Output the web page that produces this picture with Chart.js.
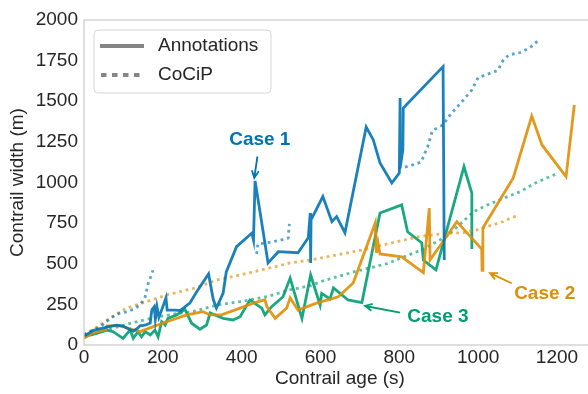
<!DOCTYPE html>
<html>
<head>
<meta charset="utf-8">
<script src="https://cdn.jsdelivr.net/npm/chart.js@4/dist/chart.umd.min.js"></script>
<style>
  html, body { margin: 0; padding: 0; background: #fff; overflow: hidden; }
  #wrap { width: 600px; height: 394px; }
</style>
</head>
<body>
<div id="wrap"><canvas id="c" width="600" height="394"></canvas></div>
<script>
// Axis ticks
const ageTicks = [0, 200, 400, 600, 800, 1000, 1200];
const widthTicks = [0, 250, 500, 750, 1000, 1250, 1500, 1750, 2000];

// Case 1: annotated contrail width [age (s), width (m)]
const case1Annotations = [
  [0,55],[24,90],[66,115],[83,122],[99,117],[125,85],[137,105],[142,118],[155,122],[168,135],
  [172,215],[178,235],[181,160],[185,235],[190,170],[200,235],[208,290],[211,215],[231,215],[244,212],
  [269,260],[286,328],[316,437],[328,280],[336,228],[353,320],[361,450],[387,605],[426,689],[430,646],
  [434,1010],[447,812],[467,505],[493,574],[543,568],[569,660],[574,812],[575,505],[576,770],[606,913],
  [629,759],[641,790],[662,691],[716,1341],[734,1262],[751,1120],[781,997],[800,1058],[802,1520],[802,1090],
  [809,1200],[810,1458],[911,1713],[914,523]
];
// Case 1: CoCiP width, three model segments
const case1CocipA = [[0,65],[40,110],[70,170],[90,195],[110,205],[125,220],[142,245],[155,295],[163,380],[170,425],[175,460]];
const case1CocipB = [[438,560],[441,620],[465,630],[493,642],[518,658],[521,745]];
const case1CocipC = [
  [798,1085],[830,1105],[855,1125],[872,1220],[884,1320],[911,1355],[930,1420],[958,1495],[984,1570],
  [1000,1645],[1050,1690],[1064,1755],[1078,1785],[1107,1800],[1132,1830],[1155,1880]
];

// Case 2
const case2Annotations = [
  [0,42],[24,76],[41,85],[55,95],[58,118],[91,118],[112,103],[142,82],[176,113],[210,143],
  [261,185],[302,205],[320,185],[349,185],[396,227],[429,258],[459,278],[464,236],[485,164],[514,227],
  [523,290],[543,215],[590,258],[645,297],[683,382],[739,751],[742,566],[746,628],[751,560],[806,543],
  [861,445],[876,843],[878,523],[946,759],[1009,590],[1010,460],[1012,720],[1089,1028],[1136,1409],
  [1162,1231],[1223,1036],[1244,1477]
];
const case2Cocip = [
  [0,60],[41,123],[66,166],[108,227],[159,267],[210,308],[244,328],[282,351],[337,400],[396,431],
  [472,474],[523,505],[574,523],[641,554],[708,585],[794,636],[853,668],[911,685],[963,692],[1001,710],
  [1031,735],[1064,760],[1086,785],[1102,795]
];

// Case 3
const case3Annotations = [
  [0,51],[32,72],[58,92],[74,82],[99,41],[117,92],[125,41],[137,82],[146,51],[155,82],
  [168,62],[180,92],[188,51],[197,144],[206,123],[213,164],[235,185],[256,220],[273,134],[294,97],
  [311,123],[320,197],[353,164],[378,154],[396,174],[421,277],[451,227],[459,185],[476,236],[505,297],
  [523,412],[553,164],[575,431],[599,246],[603,318],[624,283],[633,351],[670,277],[705,261],[751,812],
  [806,862],[821,697],[857,628],[861,523],[893,462],[964,1097],[984,934],[984,591]
];
const case3Cocip = [
  [0,50],[60,95],[120,135],[180,170],[240,195],[277,205],[337,246],[396,267],[464,297],[523,340],
  [574,365],[607,395],[692,455],[768,500],[861,590],[920,670],[962,760],[988,820],[1022,860],[1064,903],
  [1107,944],[1145,997],[1195,1050]
];

const BLUE = 'rgba(1,115,178,0.9)', BLUE_D = 'rgba(1,115,178,0.65)';
const ORANGE = 'rgba(222,143,5,0.9)', ORANGE_D = 'rgba(222,143,5,0.65)';
const GREEN = 'rgba(2,158,115,0.9)', GREEN_D = 'rgba(2,158,115,0.65)';
const FONT = '"Liberation Sans", Arial, sans-serif';
const INK = '#262626';

const toXY = arr => arr.map(([x, y]) => ({x, y}));
const solid = (data, color) => ({data: toXY(data), borderColor: color, borderWidth: 2.8, pointRadius: 0, tension: 0, fill: false});
const dotted = (data, color) => ({data: toXY(data), borderColor: color, borderWidth: 2.8, borderDash: [2.8, 3.8], borderCapStyle: 'butt', pointRadius: 0, tension: 0, fill: false});

// Frame, legend and case labels
const decorations = {
  id: 'decorations',
  afterDatasetsDraw(chart) {
    const {ctx, chartArea: a, scales: {x, y}} = chart;
    ctx.save();
    // axes frame
    ctx.strokeStyle = '#cccccc';
    ctx.lineWidth = 1.25;
    ctx.strokeRect(a.left, a.top, a.right - a.left, a.bottom - a.top);

    // legend
    const lx = 94, ly = 30, lw = 177, lh = 63, r = 4;
    ctx.beginPath();
    ctx.moveTo(lx + r, ly);
    ctx.arcTo(lx + lw, ly, lx + lw, ly + lh, r);
    ctx.arcTo(lx + lw, ly + lh, lx, ly + lh, r);
    ctx.arcTo(lx, ly + lh, lx, ly, r);
    ctx.arcTo(lx, ly, lx + lw, ly, r);
    ctx.closePath();
    ctx.fillStyle = 'rgba(255,255,255,0.85)';
    ctx.fill();
    ctx.strokeStyle = '#d6d6d6';
    ctx.lineWidth = 1;
    ctx.stroke();

    ctx.strokeStyle = '#858585';
    ctx.lineWidth = 4;
    ctx.lineCap = 'butt';
    ctx.beginPath(); ctx.moveTo(100, 46); ctx.lineTo(144, 46); ctx.stroke();
    ctx.setLineDash([5.5, 5.5]);
    ctx.beginPath(); ctx.moveTo(101, 75); ctx.lineTo(144, 75); ctx.stroke();
    ctx.setLineDash([]);

    ctx.fillStyle = INK;
    ctx.font = '19px ' + FONT;
    ctx.textBaseline = 'middle';
    ctx.textAlign = 'left';
    ctx.fillText('Annotations', 158, 46);
    ctx.fillText('CoCiP', 158, 75);

    // case labels with arrows
    const arrow = (x0, y0, x1, y1, color) => {
      const px0 = x.getPixelForValue(x0), py0 = y.getPixelForValue(y0);
      const px1 = x.getPixelForValue(x1), py1 = y.getPixelForValue(y1);
      const ang = Math.atan2(py1 - py0, px1 - px0);
      const hl = 8, ha = 0.45;
      ctx.strokeStyle = color;
      ctx.lineWidth = 1.8;
      ctx.beginPath();
      ctx.moveTo(px0, py0); ctx.lineTo(px1, py1);
      ctx.moveTo(px1 - hl * Math.cos(ang - ha), py1 - hl * Math.sin(ang - ha));
      ctx.lineTo(px1, py1);
      ctx.lineTo(px1 - hl * Math.cos(ang + ha), py1 - hl * Math.sin(ang + ha));
      ctx.stroke();
    };
    const label = (text, xv, yv, color) => {
      ctx.fillStyle = color;
      ctx.font = 'bold 19px ' + FONT;
      ctx.textAlign = 'center';
      ctx.textBaseline = 'middle';
      ctx.fillText(text, x.getPixelForValue(xv), y.getPixelForValue(yv));
    };
    label('Case 1', 446, 1262, '#0173b2');
    arrow(440, 1160, 432, 1028, '#0173b2');
    label('Case 2', 1169, 314, '#de8f05');
    arrow(1085, 380, 1030, 442, '#de8f05');
    label('Case 3', 898, 172, '#029e73');
    arrow(802, 199, 713, 240, '#029e73');
    ctx.restore();
  }
};

new Chart(document.getElementById('c'), {
  type: 'line',
  data: {
    datasets: [
      solid(case1Annotations, BLUE),
      dotted(case1CocipA, BLUE_D),
      dotted(case1CocipB, BLUE_D),
      dotted(case1CocipC, BLUE_D),
      solid(case2Annotations, ORANGE),
      dotted(case2Cocip, ORANGE_D),
      solid(case3Annotations, GREEN),
      dotted(case3Cocip, GREEN_D)
    ]
  },
  options: {
    responsive: false,
    animation: false,
    devicePixelRatio: 1,
    layout: {padding: {top: 20, right: 4, left: 0, bottom: 0}},
    plugins: {legend: {display: false}, tooltip: {enabled: false}},
    scales: {
      x: {
        type: 'linear', min: 0, max: 1299,
        afterBuildTicks: s => { s.ticks = ageTicks.map(v => ({value: v})); },
        afterFit: s => { s.height = 49; },
        grid: {display: false, drawTicks: false},
        border: {display: false},
        ticks: {color: INK, font: {size: 19, family: FONT}, padding: 1, maxRotation: 0, callback: v => String(v)},
        title: {display: true, text: 'Contrail age (s)', color: INK, font: {size: 19, family: FONT}, padding: {top: 0, bottom: 4}}
      },
      y: {
        type: 'linear', min: 0, max: 2000,
        afterBuildTicks: s => { s.ticks = widthTicks.map(v => ({value: v})); },
        afterFit: s => { s.width = 84; },
        grid: {display: false, drawTicks: false},
        border: {display: false},
        ticks: {color: INK, font: {size: 19, family: FONT}, padding: 6, callback: v => String(v)},
        title: {display: true, text: 'Contrail width (m)', color: INK, font: {size: 19, family: FONT}, padding: {top: 6, bottom: 0}}
      }
    }
  },
  plugins: [decorations]
});
</script>
</body>
</html>
